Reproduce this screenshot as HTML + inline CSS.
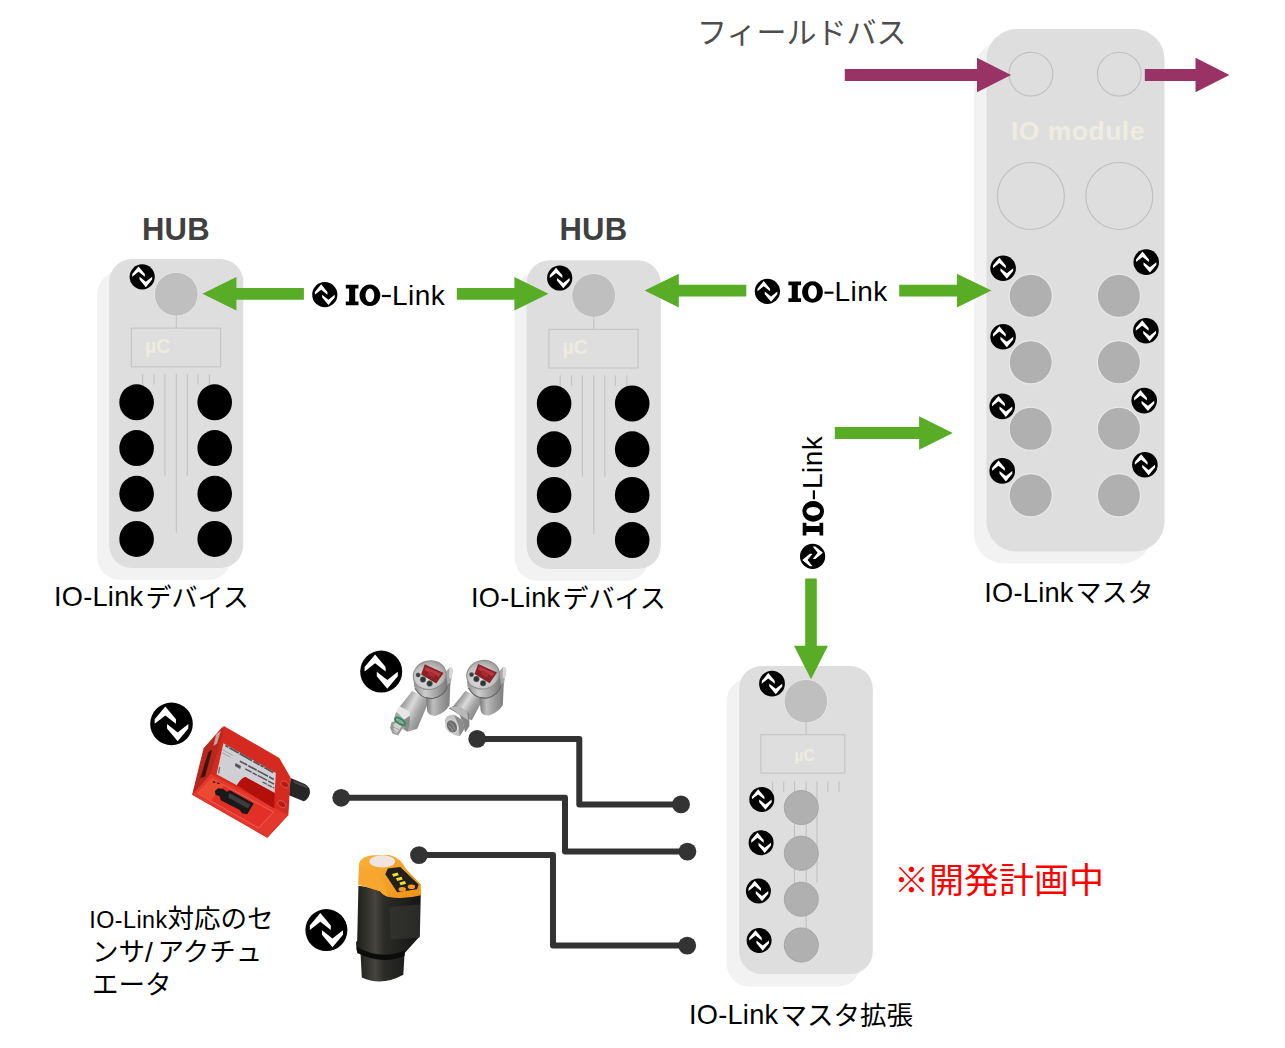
<!DOCTYPE html>
<html lang="ja"><head><meta charset="utf-8"><title>IO-Link topology</title>
<style>
html,body{margin:0;padding:0;background:#fff}
#stage{position:relative;width:1285px;height:1048px;overflow:hidden;background:#fff;font-family:"Liberation Sans",sans-serif}
#art{position:absolute;left:0;top:0;display:block}
.t{position:absolute;white-space:nowrap;margin:0;padding:0}
.sr{position:absolute;width:1px;height:1px;overflow:hidden;clip:rect(0 0 0 0);clip-path:inset(50%);white-space:nowrap}
#art text{font-family:"Liberation Sans","Noto Sans CJK JP",sans-serif}
</style></head><body>
<div id="stage">
<svg id="art" width="1285" height="1048" viewBox="0 0 1285 1048">
<defs>
<filter id="soft" x="-5%" y="-5%" width="110%" height="110%"><feGaussianBlur stdDeviation=".55"/></filter>
<g id="ico"><circle r="1" fill="#000"/><path fill="#fff" d="M-.29-.82 .21-.22V-.005L-.29-.4-.79-.005V-.22ZM.29.82-.21.22V.005L.29.4.79.005V.22Z"/></g>
<linearGradient id="blk" x1="0" y1="0" x2="1" y2="0"><stop offset="0" stop-color="#1b1b19"/><stop offset=".3" stop-color="#45453c"/><stop offset=".45" stop-color="#2a2a26"/><stop offset="1" stop-color="#151515"/></linearGradient>
<linearGradient id="org" x1="0" y1="0" x2="1" y2="1"><stop offset="0" stop-color="#f9b13a"/><stop offset="1" stop-color="#ef9216"/></linearGradient>
</defs>
<rect x="97.1" y="271" width="134.2" height="308.9" rx="23" fill="#f2f2f2" filter="url(#soft)"/>
<rect x="109.1" y="259" width="134.2" height="308.9" rx="23" fill="#dedede" filter="url(#soft)"/>
<circle cx="176.2" cy="294.2" r="21.9" fill="#bfbfbf" stroke="#e6e6e6" stroke-width="1"/>
<use href="#ico" transform="translate(142.2 276.8) scale(12.6)"/>
<path d="M176.3 315V328.2M142.7 374V386M154.1 374V384.6M164.9 374V475.8M176.3 374V532.7M187.3 374V475.8M197.9 374V384.6M209.3 374V386" stroke="#c2c2c2" stroke-width="1.1" fill="none"/>
<rect x="131.4" y="328.2" width="89.2" height="38.6" fill="none" stroke="#c6c6c6" stroke-width="1.2"/>
<ellipse cx="136.6" cy="402.3" rx="17.3" ry="18" fill="#000"/>
<ellipse cx="136.6" cy="448.1" rx="17.3" ry="18" fill="#000"/>
<ellipse cx="136.6" cy="493.8" rx="17.3" ry="18" fill="#000"/>
<ellipse cx="136.6" cy="538.9" rx="17.3" ry="18" fill="#000"/>
<ellipse cx="214.7" cy="402.3" rx="17.3" ry="18" fill="#000"/>
<ellipse cx="214.7" cy="448.1" rx="17.3" ry="18" fill="#000"/>
<ellipse cx="214.7" cy="493.8" rx="17.3" ry="18" fill="#000"/>
<ellipse cx="214.7" cy="538.9" rx="17.3" ry="18" fill="#000"/>
<rect x="514.6" y="272.2" width="134.2" height="308.9" rx="23" fill="#f2f2f2" filter="url(#soft)"/>
<rect x="526.6" y="260.2" width="134.2" height="308.9" rx="23" fill="#dedede" filter="url(#soft)"/>
<circle cx="593.7" cy="295.4" r="21.9" fill="#bfbfbf" stroke="#e6e6e6" stroke-width="1"/>
<use href="#ico" transform="translate(559.7 278) scale(12.6)"/>
<path d="M593.8 316.2V329.4M560.2 375.2V387.2M571.6 375.2V385.8M582.4 375.2V477M593.8 375.2V533.9M604.8 375.2V477M615.4 375.2V385.8M626.8 375.2V387.2" stroke="#c2c2c2" stroke-width="1.1" fill="none"/>
<rect x="548.9" y="329.4" width="89.2" height="38.6" fill="none" stroke="#c6c6c6" stroke-width="1.2"/>
<ellipse cx="554.1" cy="403.5" rx="17.3" ry="18" fill="#000"/>
<ellipse cx="554.1" cy="449.3" rx="17.3" ry="18" fill="#000"/>
<ellipse cx="554.1" cy="495" rx="17.3" ry="18" fill="#000"/>
<ellipse cx="554.1" cy="540.1" rx="17.3" ry="18" fill="#000"/>
<ellipse cx="632.2" cy="403.5" rx="17.3" ry="18" fill="#000"/>
<ellipse cx="632.2" cy="449.3" rx="17.3" ry="18" fill="#000"/>
<ellipse cx="632.2" cy="495" rx="17.3" ry="18" fill="#000"/>
<ellipse cx="632.2" cy="540.1" rx="17.3" ry="18" fill="#000"/>
<rect x="974" y="41.1" width="178" height="522.4" rx="30" fill="#f2f2f2" filter="url(#soft)"/>
<rect x="986.5" y="29.1" width="178" height="522.4" rx="30" fill="#dedede" filter="url(#soft)"/>
<circle cx="1030.9" cy="74.1" r="21.9" fill="none" stroke="#bfbfbf" stroke-width="1.1"/>
<circle cx="1030.9" cy="196" r="33.5" fill="none" stroke="#bfbfbf" stroke-width="1.1"/>
<circle cx="1119.3" cy="74.1" r="21.9" fill="none" stroke="#bfbfbf" stroke-width="1.1"/>
<circle cx="1119.3" cy="196" r="33.5" fill="none" stroke="#bfbfbf" stroke-width="1.1"/>
<circle cx="1030.7" cy="295.8" r="21.6" fill="#b0b0b0" stroke="#e8e8e8" stroke-width="1.2"/>
<circle cx="1030.7" cy="362.3" r="21.6" fill="#b0b0b0" stroke="#e8e8e8" stroke-width="1.2"/>
<circle cx="1030.7" cy="428.8" r="21.6" fill="#b0b0b0" stroke="#e8e8e8" stroke-width="1.2"/>
<circle cx="1030.7" cy="495.3" r="21.6" fill="#b0b0b0" stroke="#e8e8e8" stroke-width="1.2"/>
<circle cx="1118.9" cy="295.8" r="21.6" fill="#b0b0b0" stroke="#e8e8e8" stroke-width="1.2"/>
<circle cx="1118.9" cy="362.3" r="21.6" fill="#b0b0b0" stroke="#e8e8e8" stroke-width="1.2"/>
<circle cx="1118.9" cy="428.8" r="21.6" fill="#b0b0b0" stroke="#e8e8e8" stroke-width="1.2"/>
<circle cx="1118.9" cy="495.3" r="21.6" fill="#b0b0b0" stroke="#e8e8e8" stroke-width="1.2"/>
<use href="#ico" transform="translate(1003.1 268.2) scale(12.8)"/>
<use href="#ico" transform="translate(1003.1 336.7) scale(12.8)"/>
<use href="#ico" transform="translate(1002.2 406.4) scale(12.8)"/>
<use href="#ico" transform="translate(1002.2 470.9) scale(12.8)"/>
<use href="#ico" transform="translate(1146.2 262.1) scale(12.8)"/>
<use href="#ico" transform="translate(1145.9 330.8) scale(12.8)"/>
<use href="#ico" transform="translate(1144.2 400.6) scale(12.8)"/>
<use href="#ico" transform="translate(1144.9 464.8) scale(12.8)"/>
<rect x="726.7" y="678.4" width="133.7" height="308.1" rx="22.5" fill="#f2f2f2" filter="url(#soft)"/>
<rect x="739.1" y="666" width="133.7" height="308.1" rx="22.5" fill="#dedede" filter="url(#soft)"/>
<circle cx="805.9" cy="701.2" r="21.8" fill="#bfbfbf" stroke="#e6e6e6" stroke-width="1"/>
<use href="#ico" transform="translate(772 683.7) scale(12.9)"/>
<path d="M806.2 722.5V734.7M772.7 781.4V791.8M783.7 781.4V791.8M794.5 781.4V890M806.2 781.4V930M817 781.4V882.5M827.8 781.4V791.8M839 781.4V791.8" stroke="#c2c2c2" stroke-width="1.1" fill="none"/>
<rect x="760.9" y="734.7" width="83.9" height="38.4" fill="none" stroke="#c6c6c6" stroke-width="1.2"/>
<circle cx="801.3" cy="807.6" r="17" fill="#b0b0b0" stroke="#a6a6a6" stroke-width="1"/>
<circle cx="801.3" cy="853.2" r="17" fill="#b0b0b0" stroke="#a6a6a6" stroke-width="1"/>
<circle cx="801.3" cy="899.2" r="17" fill="#b0b0b0" stroke="#a6a6a6" stroke-width="1"/>
<circle cx="801.3" cy="945" r="17" fill="#b0b0b0" stroke="#a6a6a6" stroke-width="1"/>
<use href="#ico" transform="translate(761.8 799.4) scale(12.5)"/>
<use href="#ico" transform="translate(761.1 842.7) scale(12.5)"/>
<use href="#ico" transform="translate(758.4 891) scale(12.5)"/>
<use href="#ico" transform="translate(759.1 940.5) scale(12.5)"/>
<path fill="#59ad26" d="M303.9 287.9H236.4V277L202.4 293.8L236.4 310.6V299.7H303.9Z"/>
<path fill="#59ad26" d="M456.8 287.9H514.4V277L548.5 293.8L514.4 310.6V299.7H456.8Z"/>
<path fill="#59ad26" d="M746.3 284.7H678.8V273.8L644.6 290.6L678.8 307.4V296.5H746.3Z"/>
<path fill="#59ad26" d="M899.2 284.7H956.9V273.8L991.5 290.6L956.9 307.4V296.5H899.2Z"/>
<path fill="#59ad26" d="M834.8 427.1H919.1V416.2L952.8 433L919.1 449.8V438.9H834.8Z"/>
<path fill="#59ad26" d="M805.2 578.4V645.8H794L811 679.2L828 645.8H816.8V578.4Z"/>
<path fill="#993366" d="M844.8 69.05H977V57.8L1011 75L977 92.2V80.95H844.8Z"/>
<path fill="#993366" d="M1144.8 69.05H1195.5V57.8L1229.5 75L1195.5 92.2V80.95H1144.8Z"/>
<g transform="translate(324.8 294.7)"><use href="#ico" transform="scale(12.6)"/><path d="M21 -9.9h12.7v3.7h-3.3v13.1h3.3v3.7H21v-3.7h3.3V-6.2H21Z" fill="#000"/><path fill-rule="evenodd" d="M45.1 -10.2a10.4 10.8 0 1 0 .01 0ZM45.1 -6.2a4.4 6.8 0 1 1 -.01 0Z" fill="#000"/><rect x="57.1" y="0.2" width="9" height="2.2" fill="#000"/></g>
<g transform="translate(767.4 291.4)"><use href="#ico" transform="scale(12.6)"/><path d="M21 -9.9h12.7v3.7h-3.3v13.1h3.3v3.7H21v-3.7h3.3V-6.2H21Z" fill="#000"/><path fill-rule="evenodd" d="M45.1 -10.2a10.4 10.8 0 1 0 .01 0ZM45.1 -6.2a4.4 6.8 0 1 1 -.01 0Z" fill="#000"/><rect x="57.1" y="0.2" width="9" height="2.2" fill="#000"/></g>
<g transform="translate(812.6 556.4) rotate(-90)"><use href="#ico" transform="scale(12.6)"/><path d="M21 -9.9h12.7v3.7h-3.3v13.1h3.3v3.7H21v-3.7h3.3V-6.2H21Z" fill="#000"/><path fill-rule="evenodd" d="M45.1 -10.2a10.4 10.8 0 1 0 .01 0ZM45.1 -6.2a4.4 6.8 0 1 1 -.01 0Z" fill="#000"/><rect x="57.1" y="0.2" width="9" height="2.2" fill="#000"/></g>
<path d="M477.2 738.9H579.3V804.4H681M341.2 797.8H565V851.6H687.3M419 855.1H553V945.6H687.2" fill="none" stroke="#333" stroke-width="6" stroke-linejoin="round"/>
<circle cx="477.2" cy="738.9" r="8.9" fill="#333"/>
<circle cx="681" cy="804.4" r="8.9" fill="#333"/>
<circle cx="341.2" cy="797.8" r="8.9" fill="#333"/>
<circle cx="687.4" cy="851.6" r="8.9" fill="#333"/>
<circle cx="419" cy="855.1" r="8.9" fill="#333"/>
<circle cx="687.2" cy="945.6" r="8.9" fill="#333"/>
<use href="#ico" transform="translate(381.2 671.6) scale(21)"/>
<use href="#ico" transform="translate(171.5 723.9) scale(21.3)"/>
<use href="#ico" transform="translate(326.4 930.1) scale(21)"/>
<!-- red photoelectric sensor -->
<g transform="translate(185 720) scale(.11926)">
<path d="M885 486 1005 536Q1050 560 1048 610 1035 670 995 682L872 630Z" fill="#262626"/>
<path d="M905 505 1015 552 1030 575 920 530Z" fill="#4a4a4a"/>
<path d="M330 58Q318 60 305 75L160 240 65 625 690 982 862 795 880 482 785 320Z" fill="#d42a20" stroke="#d42a20" stroke-width="10" stroke-linejoin="round"/>
<path d="M330 60 160 240 65 625 215 452Z" fill="#b5281e"/>
<path d="M300 92 268 200 238 215 262 120Z" fill="#caa39e"/>
<path d="M228 250 196 268 128 488 168 474Z" fill="#43120f"/>
<path d="M215 452 862 797 690 982 65 625Z" fill="#e4382c"/>
<path d="M226 492 742 772 618 906 106 616Z" fill="#e23026" stroke="#f2807a" stroke-width="5" stroke-linejoin="round"/>
<path d="M106 616 226 492 330 548 215 678Z" fill="#ea4a30"/>
<path d="M250 598 276 572 322 578 350 602 376 590 576 700 522 790 480 782 455 752 300 672 290 640 256 626Z" fill="#191919"/>
<path d="M372 612 548 708 528 742 362 650Z" fill="#3c3c3c"/>
<path d="M236 512l20 6-4 10-20-6ZM272 522l20 6-4 10-20-6Z" fill="#3a0d0a"/>
<path d="M322 195 762 445 752 612 505 478Q470 490 435 548L265 455Z" fill="#cfcfd4"/>
<path d="M505 478 752 612 748 742 435 548Q470 490 505 478Z" fill="#b3100c"/>
<g stroke="#55555c" fill="none">
<path d="M338 214 740 440" stroke-width="16" stroke-dasharray="30 8 90 10 120 12 60 8"/>
<path d="M460 345 745 498" stroke-width="14" stroke-dasharray="70 10 80 8 100 10"/>
<path d="M505 410 748 538" stroke-width="12" stroke-dasharray="60 10 40 8 90 10"/>
<path d="M650 520 750 572" stroke-width="10" stroke-dasharray="40 8"/>
<path d="M318 250 400 296M312 275 380 312" stroke-width="7" stroke="#9a9aa0"/>
<path d="M290 395 282 450" stroke-width="10" stroke="#66666c"/>
<path d="M425 360 470 385 462 410 418 386Z" fill="#55555c" stroke="none"/>
</g>
<ellipse cx="838" cy="540" rx="38" ry="24" transform="rotate(28 838 540)" fill="#b51c14" stroke="#e8594c" stroke-width="7"/>
<ellipse cx="812" cy="706" rx="38" ry="24" transform="rotate(28 812 706)" fill="#b51c14" stroke="#e8594c" stroke-width="7"/>
</g>
<!-- pressure sensors -->
<g transform="translate(385 655) scale(.09339)">
<defs>
<linearGradient id="stem" x1="0" y1=".2" x2="1" y2=".8"><stop offset="0" stop-color="#7a7a7a"/><stop offset=".22" stop-color="#9e9e9e"/><stop offset=".42" stop-color="#dadada"/><stop offset=".62" stop-color="#a6a6a6"/><stop offset="1" stop-color="#6c6c6c"/></linearGradient>
<linearGradient id="elb" x1="0" y1="0" x2="1" y2="0"><stop offset="0" stop-color="#767676"/><stop offset=".3" stop-color="#bebebe"/><stop offset=".6" stop-color="#9e9e9e"/><stop offset="1" stop-color="#7e7e7e"/></linearGradient>
<linearGradient id="wall" x1="0" y1="0" x2="1" y2="0"><stop offset="0" stop-color="#8e8e8e"/><stop offset=".35" stop-color="#cccccc"/><stop offset=".7" stop-color="#a0a0a0"/><stop offset="1" stop-color="#787878"/></linearGradient>
<radialGradient id="face" cx=".38" cy=".6" r=".7"><stop offset="0" stop-color="#e8e8e8"/><stop offset=".6" stop-color="#c2c2c2"/><stop offset="1" stop-color="#969696"/></radialGradient>
<g id="pshead">
<path d="M640 190 690 136Q722 128 726 172L702 312 650 336Z" fill="#a9a9a9"/>
<path d="M690 136Q722 128 726 172L712 256 688 244Z" fill="#d9d9d9"/>
<path d="M436 420 452 600Q466 652 540 652 640 622 690 540L700 300Z" fill="url(#elb)"/>
<path d="M304 228 312 338Q380 472 522 456 652 422 668 300L652 188Z" fill="url(#wall)"/>
<path d="M320 356Q392 480 522 464 640 434 668 334" fill="none" stroke="#5f5f5f" stroke-width="11"/>
<ellipse cx="478" cy="216" rx="176" ry="152" transform="rotate(-14 478 216)" fill="url(#face)" stroke="#8f8f8f" stroke-width="12"/>
<path d="M426 100 628 192 548 306 386 208Z" fill="#8f1f26"/>
<path d="M440 128 600 200 578 232 424 160Z" fill="#b53a42"/>
<path d="M470 170l70 34-16 40-70-36Z" fill="#a62c34"/>
<circle cx="355" cy="214" r="25" fill="#394040" stroke="#9aa0a0" stroke-width="4"/>
<circle cx="407" cy="262" r="32" fill="#2e3638" stroke="#8d9494" stroke-width="6"/>
<circle cx="478" cy="306" r="32" fill="#2e3638" stroke="#8d9494" stroke-width="6"/>
</g>
</defs>
<!-- sensor 1 -->
<path d="M290 385 480 470 345 790 240 822 110 640 165 545Z" fill="url(#stem)"/>
<path d="M150 545 258 600 268 650 205 690 120 610Z" fill="#e6e6e6"/>
<path d="M205 690 268 650 262 760 240 822 205 800Z" fill="#8a8a8a"/>
<path d="M120 610 205 690 205 800 150 770 95 690Z" fill="#a6a6a6"/>
<path d="M70 720 150 690 205 760 140 862 80 840 55 780Z" fill="#989898"/>
<path d="M92 738 148 714 180 760 125 842 92 822Z" fill="#cfcfcf"/>
<path d="M62 790 130 830M66 760 150 800" stroke="#8a8a8a" stroke-width="7"/>
<ellipse cx="160" cy="710" rx="60" ry="26" transform="rotate(34 160 710)" fill="none" stroke="#2a8a60" stroke-width="20"/>
<use href="#pshead"/>
<!-- sensor 2 -->
<path d="M860 385 1050 470 930 700 790 640 720 560Z" fill="url(#stem)"/>
<path d="M680 570 760 535 900 620 905 760 860 830 800 640Z" fill="#858585"/>
<path d="M690 560 790 545 880 610 890 700 800 640Z" fill="#b8b8b8"/>
<path d="M640 700Q650 640 740 640L830 700 850 790 800 870Q700 860 650 780Z" fill="#c2c2c2"/>
<path d="M740 640 830 700 850 790 800 870 790 760Z" fill="#8c8c8c"/>
<ellipse cx="716" cy="764" rx="58" ry="76" transform="rotate(-28 716 764)" fill="#6e6e6e" stroke="#d6d6d6" stroke-width="14"/>
<path d="M690 720Q730 740 750 800M680 760Q715 775 730 820" stroke="#a8a8a8" stroke-width="8" fill="none"/>
<use href="#pshead" transform="translate(572 -4)"/>
</g>
<!-- ultrasonic sensor -->
<g transform="translate(290 840) scale(.15274)">
<path d="M448 300 440 660 432 670 436 722 462 745 470 900Q600 960 742 882L750 742 850 630 856 360Z" fill="url(#blk)"/>
<path d="M436 700Q600 790 752 722L750 760Q600 820 440 740Z" fill="#0c0c0c"/>
<path d="M650 440 850 420 850 640 660 650Z" fill="#3a3a36" opacity=".55"/>
<path d="M452 150Q470 108 540 100L650 98Q720 112 760 190L856 290 858 362Q740 392 640 372 600 352 590 335L448 292Z" fill="url(#org)"/>
<path d="M470 170Q520 200 570 215 630 290 640 372 600 352 590 335L448 292 452 180Z" fill="#f7a630"/>
<ellipse cx="604" cy="140" rx="84" ry="40" fill="#f2e3e3"/>
<path d="M640 186 722 176 842 292 832 322 702 342 624 224Z" fill="#23211c"/>
<path d="M668 222l36-10 8 18-36 10ZM694 250l36-10 8 18-36 10ZM716 278l36-10 8 18-36 10Z" fill="#f0e02a"/>
<ellipse cx="735" cy="322" rx="24" ry="15" fill="#f39a28"/>
<ellipse cx="795" cy="306" rx="24" ry="15" fill="#f39a28"/>
</g>

<text x="697" y="42.5" font-size="30" fill="#4d4d4d">フィールドバス</text>
<text x="145.5" y="606.5" font-size="26" fill="#000">デバイス</text>
<text x="562.5" y="607.5" font-size="26" fill="#000">デバイス</text>
<text x="1075.5" y="602" font-size="26" fill="#000">マスタ</text>
<text x="780.5" y="1024.7" font-size="26.5" fill="#000">マスタ拡張</text>
<text x="167.5" y="928" font-size="26.5" fill="#000">対応のセ</text>
<text x="92" y="961" font-size="26.5" fill="#000">ンサ</text>
<text x="145" y="962" font-size="28" fill="#000">/</text>
<text x="157.5" y="961" font-size="26.5" fill="#000">アクチュ</text>
<text x="92" y="993.5" font-size="26.5" fill="#000">エータ</text>
<text x="894" y="893" font-size="35" fill="#ff0000">※開発計画中</text>
</svg>
<div class="t" style="left:145px;top:337.29px;font-size:19.5px;line-height:19.5px;color:#eeece1;font-weight:700;">µC</div>
<div class="t" style="left:562.5px;top:338.49px;font-size:19.5px;line-height:19.5px;color:#eeece1;font-weight:700;">µC</div>
<div class="t" style="left:141.9px;top:213.96px;font-size:31px;line-height:31px;color:#404040;font-weight:700;letter-spacing:0.25px;">HUB</div>
<div class="t" style="left:559.4px;top:213.96px;font-size:31px;line-height:31px;color:#404040;font-weight:700;letter-spacing:0.25px;">HUB</div>
<div class="t" style="left:1010.9px;top:118.17px;font-size:26.5px;line-height:26.5px;color:#eeece1;font-weight:700;letter-spacing:0.5px;">IO module</div>
<div class="t" style="left:794.4px;top:747.69px;font-size:15.6px;line-height:15.6px;color:#eeece1;font-weight:700;">µC</div>
<div class="t" style="left:391.9px;top:281.5px;font-size:28px;line-height:28px;color:#000;letter-spacing:0.5px;">Link</div>
<div class="t" style="left:834.5px;top:278.2px;font-size:28px;line-height:28px;color:#000;letter-spacing:0.5px;">Link</div>
<div class="t" style="left:799.4px;top:489.3px;font-size:28px;line-height:28px;transform-origin:0 0;transform:rotate(-90deg);letter-spacing:0.5px">Link</div>
<div class="t" style="left:54px;top:582.98px;font-size:27.2px;line-height:27.2px;color:#000;letter-spacing:0.25px;">IO-Link</div>
<div class="t" style="left:471px;top:583.98px;font-size:27.2px;line-height:27.2px;color:#000;letter-spacing:0.25px;">IO-Link</div>
<div class="t" style="left:984.3px;top:578.78px;font-size:27.2px;line-height:27.2px;color:#000;letter-spacing:0.25px;">IO-Link</div>
<div class="t" style="left:689px;top:1001.48px;font-size:27.2px;line-height:27.2px;color:#000;letter-spacing:0.25px;">IO-Link</div>
<div class="t" style="left:89.3px;top:908.58px;font-size:23.3px;line-height:23.3px;color:#000;letter-spacing:0.45px;">IO-Link</div>
</div>
</body></html>
